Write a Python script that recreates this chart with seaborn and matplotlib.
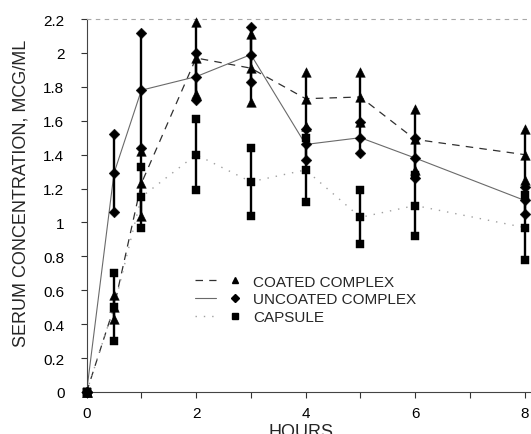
import matplotlib
matplotlib.use("Agg")
import matplotlib.pyplot as plt
import pandas as pd
import seaborn as sns
from matplotlib.lines import Line2D
from matplotlib.legend_handler import HandlerTuple
from matplotlib.ticker import FuncFormatter, MultipleLocator

# Sampling times (hours) and serum levels (mean and SD, mcg/mL)
hours = [0, 0.5, 1, 2, 3, 4, 5, 6, 8]

coated_mean = [0, 0.50, 1.23, 1.97, 1.91, 1.73, 1.74, 1.49, 1.40]
coated_sd = [0, 0.07, 0.19, 0.21, 0.20, 0.16, 0.15, 0.18, 0.15]

uncoated_mean = [0, 1.29, 1.78, 1.86, 1.99, 1.46, 1.50, 1.38, 1.13]
uncoated_sd = [0, 0.23, 0.34, 0.14, 0.16, 0.09, 0.09, 0.12, 0.08]

capsule_mean = [0, 0.50, 1.15, 1.40, 1.24, 1.31, 1.03, 1.10, 0.97]
capsule_sd = [0, 0.20, 0.18, 0.21, 0.20, 0.19, 0.16, 0.18, 0.19]

series_names = ["COATED COMPLEX", "UNCOATED COMPLEX", "CAPSULE"]
y_ticks = [0, 0.2, 0.4, 0.6, 0.8, 1, 1.2, 1.4, 1.6, 1.8, 2, 2.2]
x_ticks = [0, 2, 4, 6, 8]

means = [coated_mean, uncoated_mean, capsule_mean]
sds = [coated_sd, uncoated_sd, capsule_sd]

rows = []
for name, m_list, s_list in zip(series_names, means, sds):
    for h, m, s in zip(hours, m_list, s_list):
        rows.append({"series": name, "hours": h, "mean": m,
                     "low": m - s, "high": m + s})
df = pd.DataFrame(rows)
points = df.melt(id_vars=["series", "hours"], value_vars=["low", "mean", "high"],
                 var_name="stat", value_name="conc")

styles = {
    "COATED COMPLEX": dict(marker="^", color="#303030", ls=(0, (6, 5)), lw=0.9),
    "UNCOATED COMPLEX": dict(marker="D", color="#6a6a6a", ls="-", lw=0.8),
    "CAPSULE": dict(marker="s", color="#a0a0a0", ls=(0, (1, 5)), lw=1.0),
}
marker_sizes = {"^": 48, "D": 30, "s": 40}

sns.set_theme(style="ticks")
plt.rcParams["font.family"] = ["Liberation Sans", "DejaVu Sans"]

fig = plt.figure(figsize=(5.31, 4.35), dpi=100)
ax = fig.add_axes([86.6 / 531, 42 / 435, 444.6 / 531, 373 / 435])

# connecting lines through the means
for name in series_names:
    st = styles[name]
    sns.lineplot(data=df[df.series == name], x="hours", y="mean", ax=ax,
                 color=st["color"], linestyle=st["ls"], linewidth=st["lw"],
                 legend=False, errorbar=None, zorder=2)

# vertical bars spanning mean +/- SD
ax.vlines(df["hours"], df["low"], df["high"], color="black", lw=1.7, zorder=3)

# markers at mean and at both ends of each bar
for name in series_names:
    st = styles[name]
    sns.scatterplot(data=points[points.series == name], x="hours", y="conc",
                    ax=ax, marker=st["marker"], color="black",
                    s=marker_sizes[st["marker"]], edgecolor="black",
                    linewidth=0.3, legend=False, zorder=4, clip_on=False)

ax.set_xlim(0, 8.12)
ax.set_ylim(0, 2.2)
ax.set_xticks(x_ticks)
ax.xaxis.set_minor_locator(MultipleLocator(1))
ax.set_yticks(y_ticks)
ax.yaxis.set_major_formatter(FuncFormatter(lambda v, p: f"{v:g}"))
ax.tick_params(axis="both", which="both", direction="out", color="#333333",
               width=0.8, labelsize=11, labelcolor="black")
ax.tick_params(axis="y", which="major", length=4, pad=12)
ax.tick_params(axis="x", which="major", length=4, pad=6)
ax.tick_params(axis="x", which="minor", length=4)

for side in ("left", "bottom"):
    ax.spines[side].set_color("#444444")
    ax.spines[side].set_linewidth(0.8)
ax.spines["right"].set_visible(False)
ax.spines["top"].set_color("#a8a8a8")
ax.spines["top"].set_linewidth(0.8)
ax.spines["top"].set_linestyle((0, (3, 5)))

ax.set_xlabel("HOURS", fontsize=13)
ax.set_ylabel("SERUM CONCENTRATION, MCG/ML", fontsize=13)
ax.xaxis.set_label_coords(0.482, -0.083)
ax.yaxis.set_label_coords(-0.128, 0.534)

handles = []
for name in series_names:
    st = styles[name]
    ln = Line2D([], [], color=st["color"], linestyle=st["ls"], linewidth=st["lw"])
    mk = Line2D([], [], marker=st["marker"], color="black", linestyle="none",
                markersize=4.5)
    handles.append((ln, mk))
ax.legend(handles, series_names, handler_map={tuple: HandlerTuple(ndivide=None, pad=0.6)},
          loc="upper left", bbox_to_anchor=(0.244, 0.315), frameon=False,
          fontsize=11, handlelength=3.3, handletextpad=0.5, labelspacing=0.26,
          borderpad=0, borderaxespad=0)

fig.savefig("out.png", dpi=100)
